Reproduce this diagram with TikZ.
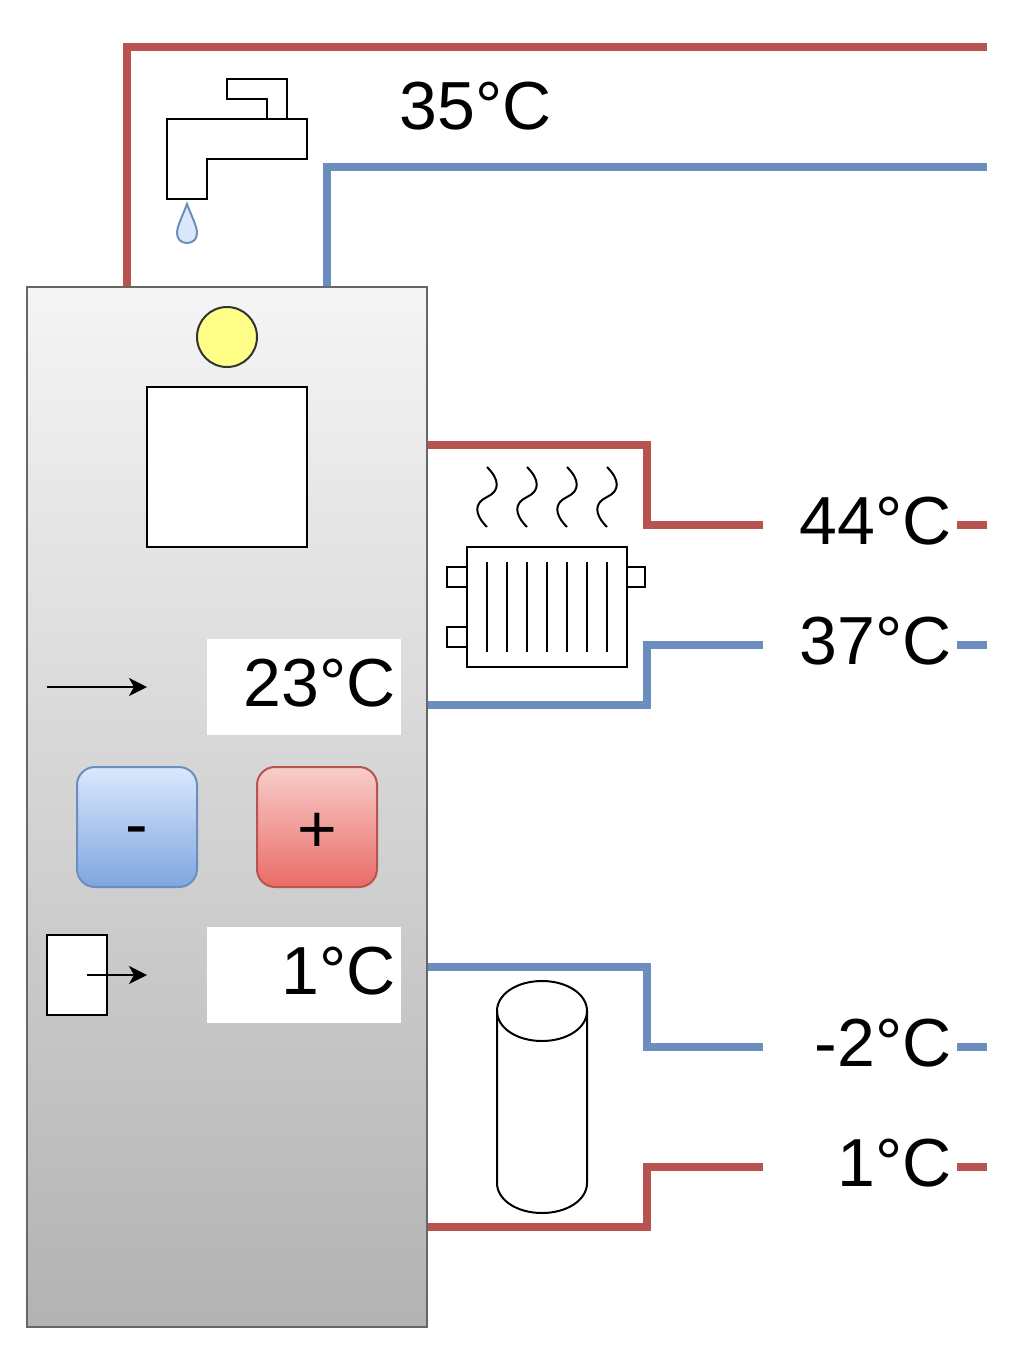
\documentclass[tikz,border=0pt]{standalone}
\usepackage{fontspec}
\setmainfont{Liberation Sans}
\usetikzlibrary{arrows.meta}
\definecolor{hotred}{HTML}{B85450}
\definecolor{coldblue}{HTML}{6C8EBF}
\definecolor{lightblue}{HTML}{DAE8FC}
\definecolor{midblue}{HTML}{7EA6E0}
\definecolor{lightred}{HTML}{F8CECC}
\definecolor{midred}{HTML}{EA6B66}
\definecolor{lampyellow}{HTML}{FFFF88}
\begin{document}
\begin{tikzpicture}[
    x=1pt, y=-1pt,
    hotpipe/.style={draw=hotred, line width=8pt},
    coldpipe/.style={draw=coldblue, line width=8pt},
    part/.style={draw=black, line width=2pt, fill=white},
    stroke/.style={draw=black, line width=2pt},
    temp/.style={rectangle, fill=white, minimum width=194pt, minimum height=96pt, inner sep=0pt, text width=183pt, align=right, text height=60pt, text depth=22pt, font=\fontsize{68}{80}\selectfont},
    button/.style={rectangle, rounded corners=18pt, line width=2pt, minimum width=120pt, minimum height=120pt, inner sep=0pt, font=\fontsize{68}{80}\selectfont},
    probe/.style={-{Stealth[length=18pt,width=18pt,inset=5pt]}, line width=2pt}
]
    \useasboundingbox (0,0) rectangle (1032,1354);

    % Temperatures on the pipes
    \node[temp] (tap) at (460,110) {35°C};
    \node[temp] (heatflow) at (860,525) {44°C};
    \node[temp] (heatback) at (860,645) {37°C};
    \node[temp] (groundback) at (860,1047) {-2°C};
    \node[temp] (groundflow) at (860,1167) {1°C};

    % Free ends of the pipes
    \coordinate (taphot) at (127,287);
    \coordinate (tapcold) at (327,287);
    \coordinate (taphotend) at (987,47);
    \coordinate (tapcoldend) at (987,167);
    \coordinate (heatout) at (427,445);
    \coordinate (heatin) at (427,705);
    \coordinate (groundout) at (427,967);
    \coordinate (groundin) at (427,1227);
    \coordinate (heatflowend) at (987,525);
    \coordinate (heatbackend) at (987,645);
    \coordinate (groundbackend) at (987,1047);
    \coordinate (groundflowend) at (987,1167);

    % Tap water
    \draw[hotpipe] (taphot) |- (taphotend);
    \draw[coldpipe] (tapcold) |- (tapcoldend);

    % Heating circuit
    \draw[hotpipe] (heatout) -- (647,445) -- (647,525) -- (heatflow.west);
    \draw[hotpipe] (heatflow.east) -- (heatflowend);
    \draw[coldpipe] (heatin) -- (647,705) -- (647,645) -- (heatback.west);
    \draw[coldpipe] (heatback.east) -- (heatbackend);

    % Ground circuit
    \draw[coldpipe] (groundout) -- (647,967) -- (647,1047) -- (groundback.west);
    \draw[coldpipe] (groundback.east) -- (groundbackend);
    \draw[hotpipe] (groundin) -- (647,1227) -- (647,1167) -- (groundflow.west);
    \draw[hotpipe] (groundflow.east) -- (groundflowend);

    % Boiler
    \node[rectangle, draw=black!60, line width=2pt, top color=black!4, bottom color=black!30, minimum width=400pt, minimum height=1040pt, inner sep=0pt] (boiler) at (227,807) {};
    \node[circle, draw=black!80, fill=lampyellow, line width=2pt, minimum size=60pt, inner sep=0pt] (lamp) at (227,337) {};
    \node[rectangle, part, minimum width=160pt, minimum height=160pt, inner sep=0pt] (screen) at (227,467) {};
    \node[temp] (roomtemp) at (304,687) {23°C};
    \node[temp] (outtemp) at (304,975) {1°C};
    \node[button, draw=coldblue, top color=lightblue, bottom color=midblue, text height=60pt, text depth=20pt] (minus) at (137,827) {-};
    \node[button, draw=hotred, top color=lightred, bottom color=midred, text height=70pt, text depth=20pt] (plus) at (317,827) {+};
    \node[rectangle, part, minimum width=60pt, minimum height=80pt, inner sep=0pt] (sensor) at (77,975) {};

    % Probes
    \coordinate (roomfrom) at (47,687);
    \coordinate (roomto) at (147,687);
    \coordinate (outfrom) at (87,975);
    \coordinate (outto) at (147,975);
    \draw[probe] (roomfrom) -- (roomto);
    \draw[probe] (outfrom) -- (outto);

    % Faucet
    \draw[part] (267,119) -- (267,99) -- (227,99) -- (227,79) -- (287,79) -- (287,119);
    \draw[part] (167,119) -- (307,119) -- (307,159) -- (207,159) -- (207,199) -- (167,199) -- cycle;
    \draw[draw=coldblue, fill=lightblue, line width=2pt] (187,204) .. controls (183,215) and (177,226) .. (177,233) .. controls (177,239) and (181,243) .. (187,243) .. controls (193,243) and (197,239) .. (197,233) .. controls (197,226) and (191,215) .. (187,204) -- cycle;

    % Radiator
    \draw[part] (447,567) rectangle (467,587);
    \draw[part] (447,627) rectangle (467,647);
    \draw[part] (627,567) rectangle (645,587);
    \draw[part] (467,547) rectangle (627,667);
    \foreach \x in {487,507,...,607}
        \draw[stroke] (\x,562) -- (\x,652);
    \foreach \x in {487,527,567,607}
        \draw[stroke] (\x,467) .. controls (\x+13,480) and (\x+13,491) .. (\x,497) .. controls (\x-13,503) and (\x-13,514) .. (\x,527);

    % Ground tank
    \draw[part] (497,1011) .. controls (497,994) and (517,981) .. (542,981) .. controls (567,981) and (587,994) .. (587,1011) -- (587,1183) .. controls (587,1200) and (567,1213) .. (542,1213) .. controls (517,1213) and (497,1200) .. (497,1183) -- cycle;
    \draw[stroke] (497,1011) .. controls (497,1028) and (517,1041) .. (542,1041) .. controls (567,1041) and (587,1028) .. (587,1011);
\end{tikzpicture}
\end{document}
